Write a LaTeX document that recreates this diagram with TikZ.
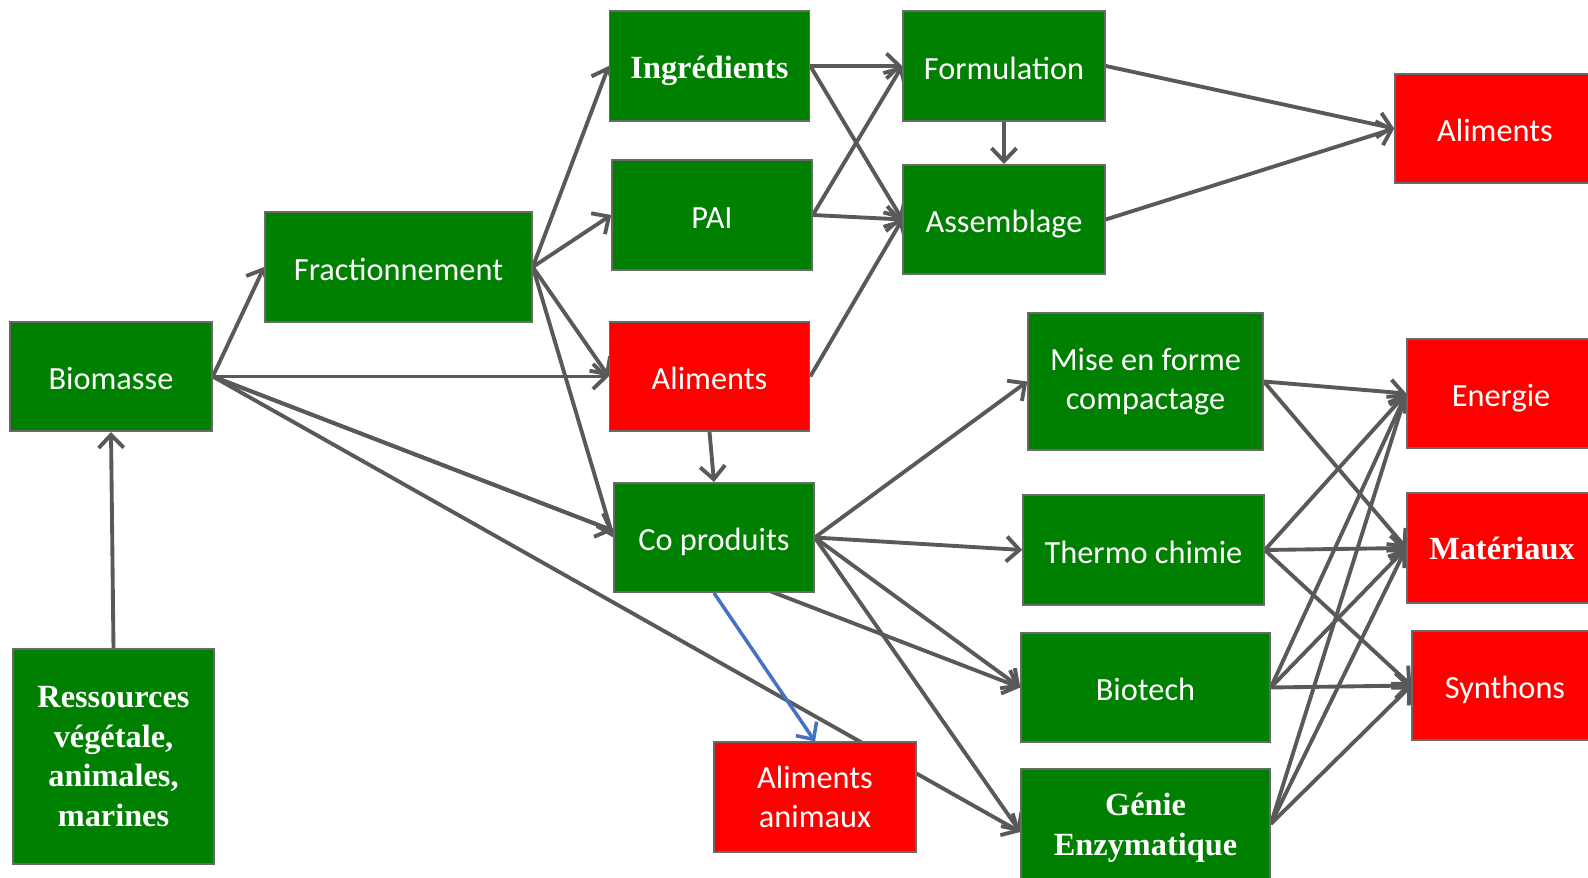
\documentclass[tikz,border=0pt]{standalone}
\usepackage{fontspec}
\setmainfont{Carlito}
\newfontfamily\timesfont{Liberation Serif}
\usetikzlibrary{arrows.meta}
\definecolor{leafgreen}{RGB}{0,128,0}
\definecolor{alarmred}{RGB}{255,0,0}
\definecolor{edgegray}{RGB}{89,89,89}
\definecolor{framegray}{RGB}{105,105,105}
\definecolor{feedblue}{RGB}{68,114,196}
\pgfdeclarelayer{flows}
\pgfsetlayers{flows,main}
\tikzset{
	stage/.style={draw=framegray,line width=0.9pt,text=white,align=center,inner sep=0pt,minimum width=4cm,minimum height=2.19cm,font=\fontsize{18.4}{22.5}\selectfont},%
	process/.style={stage,fill=leafgreen},%
	product/.style={stage,fill=alarmred},%
	oneline/.style={text height=15.5pt,text depth=0.2pt},%
	strong/.style={font=\fontsize{18.4}{22.5}\selectfont\timesfont\bfseries},%
	flow/.style={edgegray,line width=2.2pt,-{Straight Barb[length=2.6mm,width=5mm]}},%
	feed/.style={flow,feedblue,line width=2pt},%
}

\begin{document}
\begin{tikzpicture}[x=0.02cm,y=-0.02cm]
	\useasboundingbox (0,0) rectangle (1588,878);
	\clip (0,0) rectangle (1588,878);
	% Sources {{{
	\node[process,oneline,minimum width=4.04cm] (bio) at (111,376.5) {Biomasse};
	\node[process,strong,minimum width=4.02cm,minimum height=4.3cm] (res) at (113.5,756.5) {Ressources\\végétale,\\animales,\\marines};
	\node[process,oneline,minimum width=5.34cm] (frac) at (398.5,267) {Fractionnement};
	% }}}
	% Middle column {{{
	\node[process,strong,text height=14.5pt,text depth=0.5pt] (ingr) at (709.5,66) {Ingrédients};
	\node[process,oneline] (pai) at (712,215) {PAI};
	\node[product,oneline] (alim) at (709.5,376.5) {Aliments};
	\node[process,oneline] (copr) at (714,537.5) {Co produits};
	\node[product,minimum width=4.04cm] (alan) at (815,797) {Aliments\\animaux};
	\node[process,oneline,minimum width=4.04cm] (form) at (1004,66) {Formulation};
	\node[process,oneline,minimum width=4.04cm] (asse) at (1004,219.5) {Assemblage};
	% }}}
	% Conversion {{{
	\node[process,minimum width=4.7cm,minimum height=2.74cm] (mise) at (1145.5,381.5) {Mise en forme\\compactage};
	\node[process,oneline,minimum width=4.82cm] (ther) at (1143.5,550) {Thermo chimie};
	\node[process,oneline,minimum width=4.98cm] (biot) at (1145.5,687.5) {Biotech};
	\node[process,strong,minimum width=4.98cm,minimum height=2.36cm] (geni) at (1145.5,828) {Génie\\Enzymatique};
	% }}}
	% Outputs {{{
	\node[product,oneline] (alfi) at (1495,128.5) {Aliments};
	\node[product,oneline,minimum width=3.76cm] (ener) at (1501,393.5) {Energie};
	\node[product,strong,minimum width=3.8cm] (mate) at (1502,548) {Matériaux};
	\node[product,oneline,minimum width=3.72cm] (synt) at (1505,685.5) {Synthons};
	% }}}
	\coordinate (cpin) at (intersection of bio.east--biot.west and copr.north west--copr.south west);
	\coordinate (gnin) at ([yshift=-0.08cm]geni.west);
	\begin{pgfonlayer}{flows}
		\draw[flow] (res.north) -- (bio.south);
		\draw[flow] (bio.east) -- (frac.west);
		\draw[flow] (bio.east) -- (alim.west);
		\draw[flow] (bio.east) -- (cpin);
		\draw[flow] (bio.east) -- (biot.west);
		\draw[flow] (bio.east) -- (gnin);
		\draw[flow] (frac.east) -- (ingr.west);
		\draw[flow] (frac.east) -- (pai.west);
		\draw[flow] (frac.east) -- (alim.west);
		\draw[flow] (frac.east) -- (copr.west);
		\draw[flow] (ingr.east) -- (form.west);
		\draw[flow] (ingr.east) -- (asse.west);
		\draw[flow] (pai.east) -- (form.west);
		\draw[flow] (pai.east) -- (asse.west);
		\draw[flow] (alim.east) -- (asse.west);
		\draw[flow] (form.south) -- (asse.north);
		\draw[flow] (form.east) -- (alfi.west);
		\draw[flow] (asse.east) -- (alfi.west);
		\draw[flow] (alim.south) -- (copr.north);
		\draw[feed] (copr.south) -- (alan.north);
		\foreach \dest in {mise,ther,biot}
			\draw[flow] (copr.east) -- (\dest.west);
		\draw[flow] (copr.east) -- (gnin);
		\foreach \dest in {ener,mate}
			\draw[flow] (mise.east) -- (\dest.west);
		\foreach \src in {ther,biot}
			\foreach \dest in {ener,mate,synt}
				\draw[flow] (\src.east) -- (\dest.west);
		\foreach \dest in {ener,mate,synt}
			\draw[flow] ([yshift=0.08cm]geni.east) -- (\dest.west);
	\end{pgfonlayer}
\end{tikzpicture}
\end{document}
